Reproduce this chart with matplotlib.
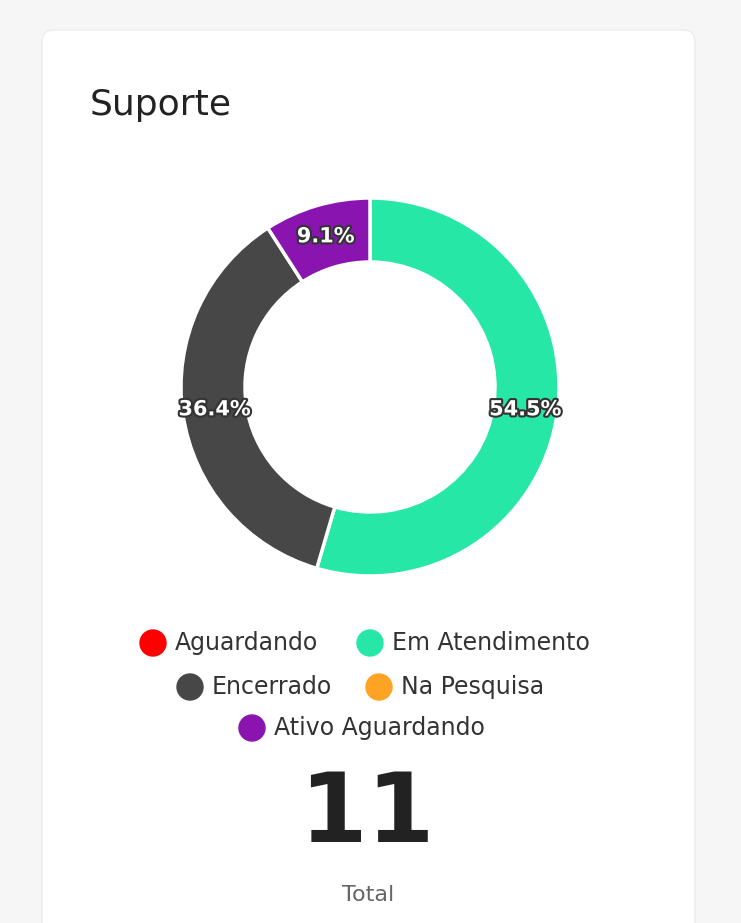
import matplotlib
matplotlib.use("Agg")
import matplotlib.pyplot as plt
from matplotlib.patches import FancyBboxPatch, Circle
import matplotlib.patheffects as pe
import numpy as np

categories = ["Aguardando", "Em Atendimento", "Encerrado", "Na Pesquisa", "Ativo Aguardando"]
values = [0, 6, 4, 0, 1]
colors = ["#ff0000", "#26e7a6", "#474747", "#ffa325", "#8a14b0"]
total = sum(values)

W, H = 741, 923
fig = plt.figure(figsize=(W/100, H/100), dpi=100)
fig.patch.set_facecolor("#f6f6f6")
ax = fig.add_axes([0, 0, 1, 1])
Y = lambda py: H - py

ax.add_patch(FancyBboxPatch((42, -40), 653, Y(30) + 40, boxstyle="round,pad=0,rounding_size=12",
                            fc="white", ec="#ececec", lw=1))
ax.text(90, Y(105), "Suporte", fontsize=26, color="#222222", va="center", ha="left")

nz = [(c, v, col) for c, v, col in zip(categories, values, colors) if v > 0]
cx, cy, R, w = 370, Y(387), 189, 64
wedges, _ = ax.pie([v for _, v, _ in nz], colors=[col for _, _, col in nz], center=(cx, cy), radius=R,
                   startangle=90, counterclock=False, frame=True,
                   wedgeprops=dict(width=w, edgecolor="white", linewidth=2.5))
ax.set_xlim(0, W); ax.set_ylim(0, H); ax.set_aspect("equal"); ax.axis("off")
for wd, (_, v, _) in zip(wedges, nz):
    a = np.deg2rad((wd.theta1 + wd.theta2) / 2)
    r = R - w / 2
    ax.text(cx + r*np.cos(a), cy + r*np.sin(a), f"{100*v/total:.1f}%", ha="center", va="center",
            fontsize=15, fontweight="bold", color="white",
            path_effects=[pe.withStroke(linewidth=3, foreground="#333333")])

rows = [[(0, 153), (1, 370)], [(2, 190), (3, 379)], [(4, 252)]]
for py, row in zip([643, 687, 728], rows):
    for i, x in row:
        ax.add_patch(Circle((x, Y(py)), 13, color=colors[i]))
        ax.text(x + 22, Y(py), categories[i], fontsize=17, color="#333333", va="center", ha="left")

ax.text(367, Y(815), str(total), fontsize=70, fontweight="bold", color="#222222", ha="center", va="center")
ax.text(368, Y(895), "Total", fontsize=16, color="#666666", ha="center", va="center")
fig.savefig("out.png", dpi=100)
